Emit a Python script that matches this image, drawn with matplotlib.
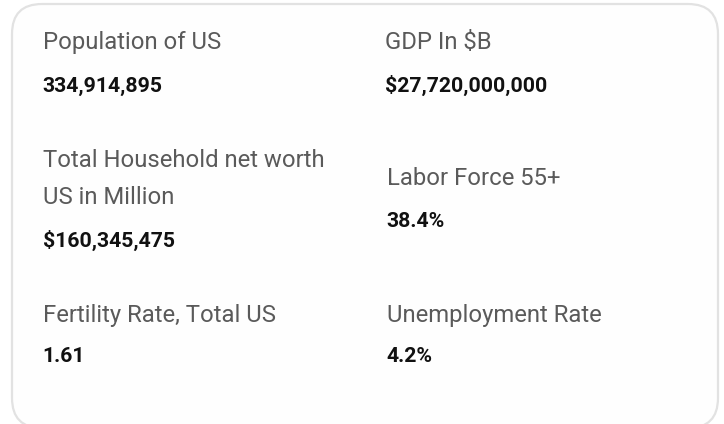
import matplotlib
matplotlib.use("Agg")
import matplotlib.pyplot as plt
from matplotlib.patches import FancyBboxPatch

plt.rcParams['font.family'] = ['Roboto', 'DejaVu Sans']

labels = ["Population of US", "GDP In $B", "Total Household net worth\nUS in Million",
          "Labor Force 55+", "Fertility Rate, Total US", "Unemployment Rate"]
values = ["334,914,895", "$27,720,000,000", "$160,345,475", "38.4%", "1.61", "4.2%"]

# layout (pixel positions): x, label baseline, value baseline
xs = [43, 385, 43, 387, 43, 387]
label_y = [49, 49, 167, 185, 322, 322]
value_y = [92, 92, 247, 227, 362, 362]

fig = plt.figure(figsize=(7.24, 4.24), dpi=100)
ax = fig.add_axes([0, 0, 1, 1])
ax.set_xlim(0, 724)
ax.set_ylim(424, 0)
ax.axis('off')

card = FancyBboxPatch((12, 4), 706, 424, boxstyle="round,pad=0,rounding_size=30",
                      facecolor="#fefefe", edgecolor="#e2e2e2", linewidth=1.6)
ax.add_patch(card)

for x, ly, vy, lab, val in zip(xs, label_y, value_y, labels, values):
    lines = lab.split("\n")
    for i, line in enumerate(lines):
        ax.text(x, ly + i * 37, line, fontsize=17.2, color="#5a5a5a", va="baseline", ha="left")
    ax.text(x - 0.5, vy, val, fontsize=15.3, fontweight="bold", color="#111111", va="baseline", ha="left")

fig.savefig("out.png", dpi=100)
